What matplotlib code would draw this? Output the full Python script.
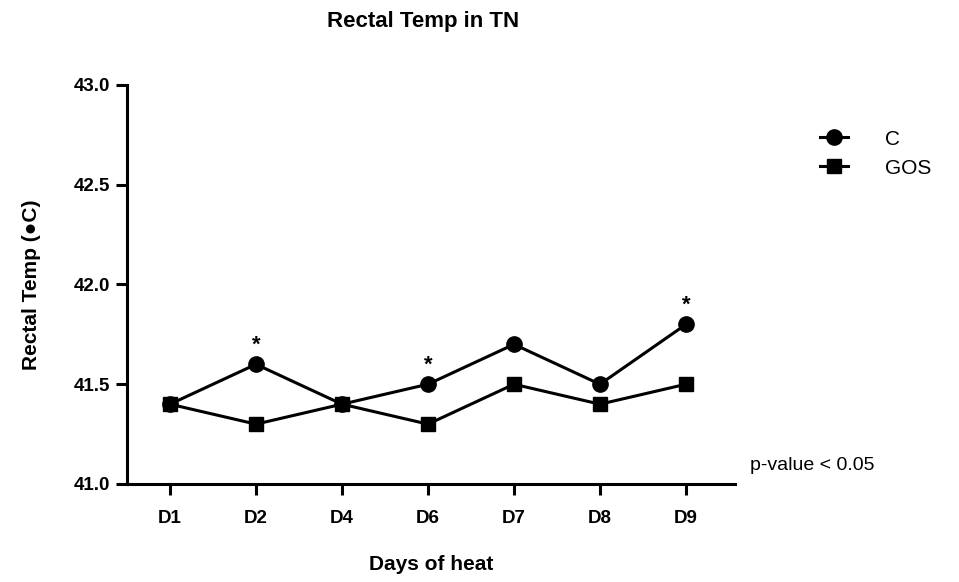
import matplotlib
matplotlib.use("Agg")
import matplotlib.pyplot as plt
import numpy as np

plt.rcParams['font.family'] = ['Liberation Sans', 'DejaVu Sans']

# data
days = ['D1', 'D2', 'D4', 'D6', 'D7', 'D8', 'D9']
temp_c = [41.4, 41.6, 41.4, 41.5, 41.7, 41.5, 41.8]
temp_gos = [41.4, 41.3, 41.4, 41.3, 41.5, 41.4, 41.5]
signif_days = ['D2', 'D6', 'D9']
y_ticks = [41.0, 41.5, 42.0, 42.5, 43.0]

fig = plt.figure(figsize=(9.59, 5.82), dpi=100)
ax = fig.add_axes([0.1324, 0.1684, 0.634, 0.6856])

x = np.arange(len(days))
ax.plot(x, temp_gos, color='black', lw=2.2, marker='s', ms=10.5,
        label='GOS', zorder=3)
ax.plot(x, temp_c, color='black', lw=2.2, marker='o', ms=11,
        label='C', zorder=4)

# significance stars above C
for d in signif_days:
    i = days.index(d)
    ax.text(i, temp_c[i] + 0.045, '*', ha='center', va='bottom',
            fontsize=16, fontweight='bold')

ax.set_xlim(-0.5, 6.57)
ax.set_ylim(41.0, 43.0)
ax.set_xticks(x)
ax.set_xticklabels(days)
ax.set_yticks(y_ticks)
ax.set_yticklabels(['%.1f' % v for v in y_ticks])

for s in ['top', 'right']:
    ax.spines[s].set_visible(False)
for s in ['left', 'bottom']:
    ax.spines[s].set_linewidth(2.2)

ax.tick_params(axis='both', width=2.2, length=8, labelsize=13.5)
ax.tick_params(axis='x', pad=11)
ax.tick_params(axis='y', pad=4)
for lbl in ax.get_xticklabels() + ax.get_yticklabels():
    lbl.set_fontweight('bold')

ax.set_xlabel('Days of heat', fontsize=15, fontweight='bold', labelpad=20)
ax.set_ylabel('Rectal Temp (\u25cfC)', fontsize=15, fontweight='bold',
              labelpad=24)
fig.text(0.441, 0.963, 'Rectal Temp in TN', ha='center', va='center',
         fontsize=16, fontweight='bold')

handles, labels = ax.get_legend_handles_labels()
leg = ax.legend(handles[::-1], labels[::-1], loc='upper left',
                bbox_to_anchor=(1.14, 0.888), frameon=False, fontsize=15,
                handlelength=1.35, labelspacing=0.48, handletextpad=1.75,
                borderaxespad=0, borderpad=0)

fig.text(0.782, 0.2, 'p-value < 0.05', ha='left', va='center', fontsize=14)

fig.savefig('out.png', dpi=100)
